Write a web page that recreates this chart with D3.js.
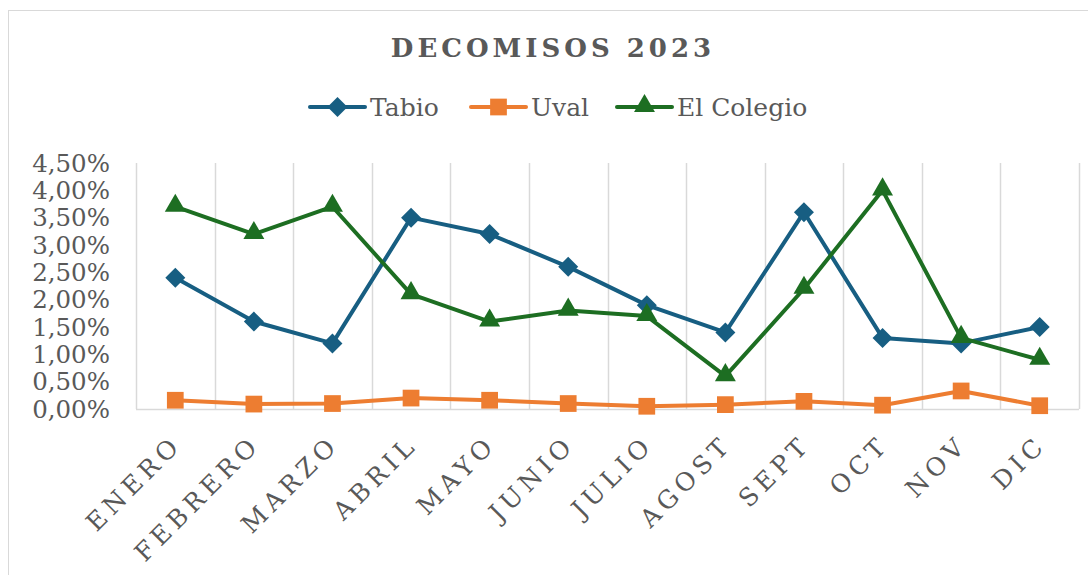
<!DOCTYPE html>
<html>
<head>
<meta charset="utf-8">
<script src="https://cdn.jsdelivr.net/npm/d3@7"></script>
<style>
  body { margin: 0; background: #fff; }
  svg { display: block; }
  text { font-family: "DejaVu Serif", "Liberation Serif", serif; fill: #595959; }
</style>
</head>
<body>
<svg width="1088" height="575"></svg>
<script>
// data
var months = ["ENERO", "FEBRERO", "MARZO", "ABRIL", "MAYO", "JUNIO", "JULIO", "AGOST", "SEPT", "OCT", "NOV", "DIC"];
var tabio = [0.024, 0.016, 0.012, 0.035, 0.032, 0.026, 0.019, 0.014, 0.036, 0.013, 0.012, 0.015];
var uval = [0.0016, 0.0009, 0.001, 0.002, 0.0016, 0.001, 0.0005, 0.0008, 0.0014, 0.0007, 0.0033, 0.0006];
var colegio = [0.037, 0.032, 0.037, 0.021, 0.016, 0.018, 0.017, 0.006, 0.022, 0.040, 0.013, 0.009];
var yTicks = [0, 0.005, 0.01, 0.015, 0.02, 0.025, 0.03, 0.035, 0.04, 0.045];

var series = [
  {name: "Tabio", values: tabio, color: "#175e82", shape: "diamond"},
  {name: "Uval", values: uval, color: "#ed7d31", shape: "square"},
  {name: "El Colegio", values: colegio, color: "#1d6e22", shape: "triangle"}
];

var svg = d3.select("svg");
var plotL = 136, plotR = 1079, plotT = 163, plotB = 409;

// chart border (runs off the right and bottom of the picture)
svg.append("rect")
  .attr("x", 8.5).attr("y", 10.5)
  .attr("width", 1100).attr("height", 600)
  .attr("fill", "none")
  .attr("stroke", "#d9d9d9");

var x = d3.scaleBand().domain(months).range([plotL, plotR]).padding(0);
var y = d3.scaleLinear().domain([0, 0.045]).range([plotB, plotT]);

var loc = d3.formatLocale({decimal: ",", thousands: ".", grouping: [3], currency: ["", "€"]});
var fmt = loc.format(".2%");

// vertical gridlines at category edges
var edges = months.map(function(m) { return x(m); }).concat([plotR]);
svg.append("g")
  .selectAll("line")
  .data(edges)
  .enter()
  .append("line")
  .attr("x1", function(d) { return Math.round(d) + 0.5; })
  .attr("x2", function(d) { return Math.round(d) + 0.5; })
  .attr("y1", plotT)
  .attr("y2", plotB)
  .attr("stroke", "#d9d9d9")
  .attr("stroke-width", 1.5);

svg.append("line")
  .attr("x1", plotL).attr("x2", plotR)
  .attr("y1", plotB + 0.5).attr("y2", plotB + 0.5)
  .attr("stroke", "#d9d9d9")
  .attr("stroke-width", 1.5);

// y tick labels
svg.append("g")
  .selectAll("text")
  .data(yTicks)
  .enter()
  .append("text")
  .attr("x", 110)
  .attr("y", function(d) { return y(d); })
  .attr("dy", "0.36em")
  .attr("text-anchor", "end")
  .style("font-size", "24.5px")
  .text(function(d) { return fmt(d); });

// x tick labels, rotated
svg.append("g")
  .selectAll("text")
  .data(months)
  .enter()
  .append("text")
  .attr("transform", function(d) {
    var cx = x(d) + x.bandwidth() / 2;
    return "translate(" + (cx + 8) + "," + 446 + ") rotate(-45)";
  })
  .attr("text-anchor", "end")
  .style("font-size", "25px")
  .style("letter-spacing", "5px")
  .text(function(d) { return d; });

// marker shapes; the diamond is a square turned 45 degrees
function marker(shape) {
  if (shape == "diamond") return "M0,-10L10,0L0,10L-10,0Z";
  if (shape == "square") return d3.symbol().type(d3.symbolSquare).size(280)();
  return d3.symbol().type(d3.symbolTriangle).size(190)();
}

var line = d3.line()
  .x(function(d, i) { return x(months[i]) + x.bandwidth() / 2; })
  .y(function(d) { return y(d); });

series.forEach(function(s) {
  svg.append("path")
    .attr("d", line(s.values))
    .attr("fill", "none")
    .attr("stroke", s.color)
    .attr("stroke-width", 4)
    .attr("stroke-linejoin", "round");

  svg.append("g")
    .selectAll("path")
    .data(s.values)
    .enter()
    .append("path")
    .attr("d", marker(s.shape))
    .attr("transform", function(d, i) {
      var dy = s.shape == "triangle" ? -1 : 0;
      return "translate(" + (x(months[i]) + x.bandwidth() / 2) + "," + (y(d) + dy) + ")";
    })
    .attr("fill", s.color);
});

// title
svg.append("text")
  .attr("x", 553)
  .attr("y", 57)
  .attr("text-anchor", "middle")
  .style("font-size", "26px")
  .style("font-weight", "bold")
  .style("letter-spacing", "4px")
  .text("DECOMISOS 2023");

// legend
var legendX = [310, 471, 617];
var leg = svg.append("g");
series.forEach(function(s, i) {
  var g = leg.append("g").attr("transform", "translate(" + legendX[i] + ",107)");
  g.append("line")
    .attr("x1", 0).attr("x2", 55)
    .attr("stroke", s.color)
    .attr("stroke-width", 4)
    .attr("stroke-linecap", "round");
  g.append("path")
    .attr("d", marker(s.shape))
    .attr("transform", "translate(27.5," + (s.shape == "triangle" ? -1 : 0) + ")")
    .attr("fill", s.color);
  g.append("text")
    .attr("x", 60)
    .attr("dy", "0.36em")
    .style("font-size", "25px")
    .text(s.name);
});
</script>
</body>
</html>
